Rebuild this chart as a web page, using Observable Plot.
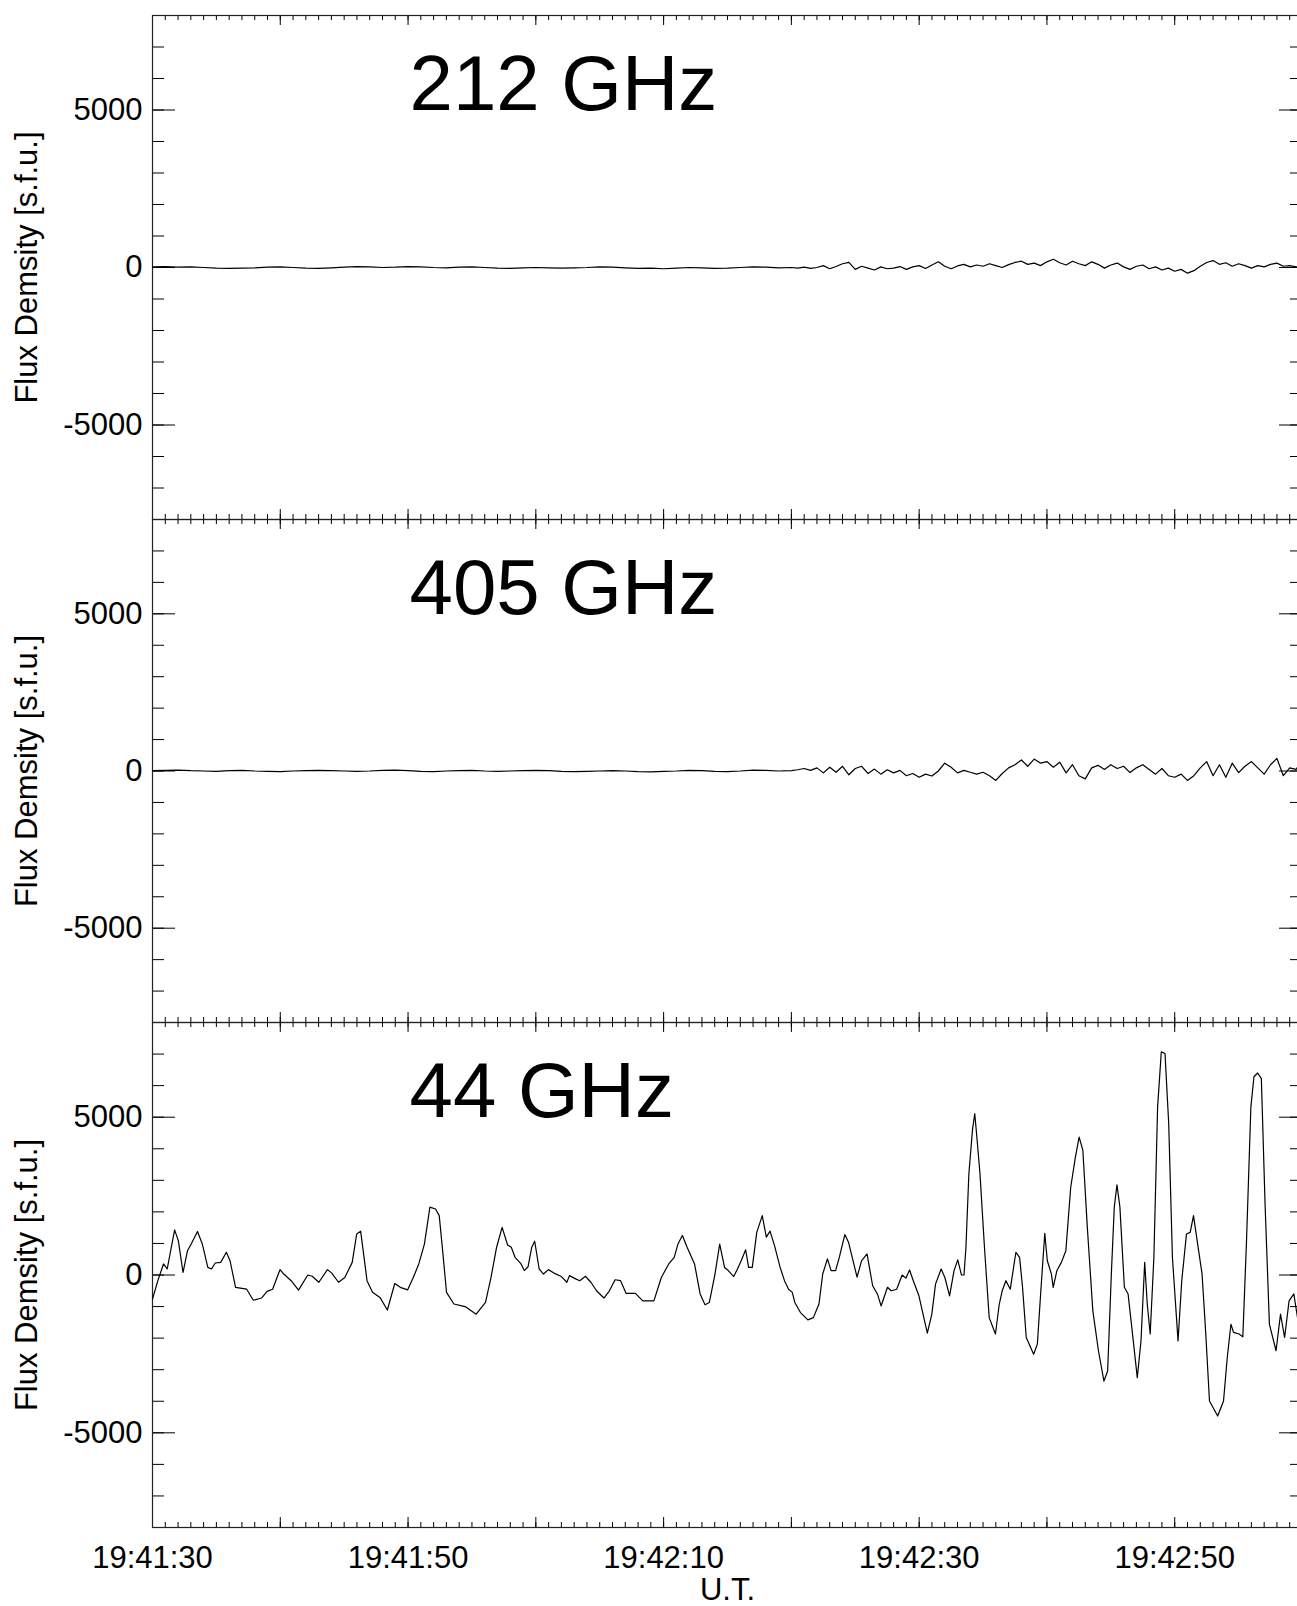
<!DOCTYPE html>
<html>
<head>
<meta charset="utf-8">
<script src="https://cdn.jsdelivr.net/npm/d3@7"></script>
<script src="https://cdn.jsdelivr.net/npm/@observablehq/plot@0.6"></script>
<style>
  body { margin: 0; background: #fff; }
  #wrap { position: relative; width: 1297px; height: 1606px; overflow: hidden; background: #fff; }
  .panel { position: absolute; left: 0; width: 1303px; }
  .panel svg { overflow: visible; display: block; max-width: none !important; }
</style>
</head>
<body>
<div id="wrap"></div>
<script>
// ---------- labels ----------
const panelTitles = ["212 GHz", "405 GHz", "44 GHz"];
const yLabel = "Flux Demsity [s.f.u.]";
const xLabel = "U.T.";
const xTickSeconds = [0, 20, 40, 60, 80];          // seconds after 19:41:30
const xTickLabels = ["19:41:30", "19:41:50", "19:42:10", "19:42:30", "19:42:50"];
const yTickValues = [-5000, 0, 5000];
const yTickLabels = ["-5000", "0", "5000"];

// ---------- 212 GHz & 405 GHz (seconds after 19:41:30, s.f.u.) ----------
const tNoise = [0,1,2,3,4,5,6,7,8,9,10,11,12,13,14,15,16,17,18,19,20,21,22,23,24,25,26,27,28,29,30,31,32,33,34,35,36,37,38,39,40,41,42,43,44,45,46,47,48,49,50,
  50.5,51,51.5,52,52.5,53,53.5,54,54.5,55,55.5,56,56.5,57,57.5,58,58.5,59,59.5,60,60.5,61,61.5,62,62.5,63,63.5,64,64.5,65,
  65.5,66,66.5,67,67.5,68,68.5,69,69.5,70,70.5,71,71.5,72,72.5,73,73.5,74,74.5,75,75.5,76,76.5,77,77.5,78,78.5,79,79.5,80,
  80.5,81,81.5,82,82.5,83,83.5,84,84.5,85,85.5,86,86.5,87,87.5,88,88.5,89,89.5,90];
const f212 = [20,30,10,20,0,-20,-30,-20,-10,10,20,0,-20,-30,-10,10,30,20,0,10,30,20,0,-10,10,20,0,-20,-30,-10,0,-10,-20,-10,0,20,10,-10,-30,-20,-40,-20,0,-10,-30,-20,0,20,10,-10,0,
  -20,10,-30,0,60,-40,30,120,160,-60, 40,-20,-80,20,-40,-20,30,-60,20,60,
  -30,80,180,40,-40,50,100,20,80,40, 120,60,0,90,160,200,100,140,60,180,
  260,150,80,200,120,60,180,100,-20,80, 140,20,-60,40,80,-40,20,-80,-20,-120,
  -60,-180,-100,40,160,220,100,150,40,120, 60,-20,60,20,100,140,40,60,20,40];
const f405 = [10,20,30,10,0,-10,10,20,0,-10,-20,0,10,20,10,0,-10,0,20,30,10,-10,-20,0,10,20,0,-10,0,10,20,10,-10,-20,-10,0,10,0,-20,-30,-10,0,20,10,-10,-20,0,30,20,0,10,
  40,80,20,100,-60,120,-40,150,-120,80, 150,-80,60,-100,40,-60,20,-150,-80,-200,
  -100,-160,0,250,120,-60,20,-40,-100,-40, -150,-300,-80,100,200,350,150,380,250,300,
  120,280,-60,200,-150,-250,100,180,50,200, 80,150,-50,100,200,50,-100,80,-150,-200,
  -100,-300,-150,100,300,-150,200,-200,250,-50, 150,300,100,-100,200,400,-150,100,50,400];

// ---------- 44 GHz ----------
const t44 = [0.0,0.42,0.86,1.15,1.73,2.02,2.39,2.74,3.03,3.52,3.90,4.33,4.62,4.91,5.34,5.78,6.07,6.50,7.37,7.89,
  8.53,8.97,9.40,9.98,10.27,10.85,11.43,12.15,12.50,13.02,13.69,14.03,14.56,15.05,15.63,15.98,16.29,16.79,17.22,17.80,
  18.38,18.96,19.39,19.97,20.41,20.84,21.28,21.71,22.15,22.44,22.73,23.01,23.59,24.46,24.75,25.33,26.06,26.49,26.93,27.36,
  27.79,28.08,28.37,28.81,29.10,29.39,29.68,29.91,30.26,30.60,30.98,31.42,32.00,32.43,32.63,33.15,33.44,33.88,34.31,34.75,
  35.33,35.76,36.20,36.63,37.06,37.79,38.37,39.24,39.82,40.40,40.83,41.12,41.47,41.84,42.42,42.86,43.24,43.58,44.02,44.39,
  44.77,45.06,45.49,45.78,46.07,46.42,46.65,46.94,47.29,47.72,48.04,48.33,48.68,49.12,49.46,49.78,50.07,50.27,50.71,51.29,
  51.72,52.16,52.45,52.82,53.11,53.46,53.75,54.18,54.47,54.76,55.14,55.49,55.92,56.36,56.73,57.02,57.52,57.81,58.24,58.67,
  58.96,59.25,59.54,59.98,60.64,60.99,61.28,61.72,62.01,62.38,62.73,63.02,63.31,63.51,63.66,63.89,64.18,64.35,64.47,64.76,
  65.11,65.48,65.97,66.27,66.50,66.79,67.13,67.57,67.86,68.09,68.38,68.96,69.25,69.54,69.83,70.03,70.35,70.49,70.78,71.13,
  71.48,71.86,72.23,72.52,72.81,73.16,73.59,74.03,74.46,74.75,75.04,75.27,75.48,75.71,76.06,76.35,76.64,77.07,77.36,77.65,
  77.85,78.08,78.37,78.66,78.95,79.24,79.53,79.82,80.26,80.55,80.92,81.21,81.47,81.85,82.14,82.43,82.72,83.36,83.82,84.11,
  84.40,84.60,85.04,85.33,85.62,85.96,86.20,86.49,86.78,87.07,87.41,87.93,88.28,88.60,88.95,89.32,89.61,89.82];
const f44 = [-760,-180,350,190,1430,1090,80,770,980,1380,980,240,190,380,400,720,450,-390,-450,-800,
  -730,-520,-450,170,30,-180,-480,0,-40,-230,170,60,-230,-80,400,1300,1390,-180,-550,-710,
  -1110,-270,-390,-470,-80,350,980,2150,2090,1880,670,-550,-920,-1000,-1080,-1240,-870,-80,880,1510,
  950,880,560,370,140,260,880,1070,190,30,170,60,-50,-230,-20,-130,-180,-40,-230,-500,
  -730,-500,-150,-180,-580,-580,-820,-820,-80,350,560,980,1250,880,350,-600,-940,-870,30,980,
  240,140,-50,190,450,800,240,240,1350,1880,1200,1390,930,240,-180,-450,-550,-870,-1190,-1420,
  -1350,-920,30,510,140,140,560,1280,1040,560,-70,450,670,-340,-600,-980,-390,-500,-450,0,
  -100,160,-180,-660,-1840,-1240,-290,190,-80,-660,140,480,0,0,880,3210,4630,5110,4580,3210,
  880,-1350,-1870,-920,-500,-180,-450,720,560,-390,-1980,-2510,-2190,-390,1320,450,30,-390,140,400,
  770,2780,3740,4370,3950,1510,-1130,-2400,-3360,-3040,30,2150,2860,2150,-390,-600,-1660,-3250,-2090,400,
  -920,-1870,560,5320,7070,7020,4790,560,-2090,-180,1300,1350,1880,830,30,-1870,-3990,-4470,-3990,-2620,
  -1560,-1820,-1870,-1960,1090,5320,6280,6400,6220,2250,-1560,-2400,-1240,-1980,-820,-600,-1350,450];

// ---------- layout ----------
const FONT = "'Liberation Sans', Arial, Helvetica, sans-serif";
const W = 1303, ML = 152, MR = 1;
const innerW = W - ML - MR;
const xDomain = [0, 90];
const yDomain = [-8000, 8000];
const xMinor = d3.range(0, 91, 1);
const xMajor = d3.range(0, 91, 10);
const yMinor = d3.range(-8000, 8001, 1000);
const yMajor = [-5000, 0, 5000];

const series = [
  {t: tNoise, f: f212},
  {t: tNoise, f: f405},
  {t: t44, f: f44}
];
const panels = [
  {top: 0,    mt: 15, inner: 504, mb: 2,  bottomAxis: false},
  {top: 517,  mt: 2,  inner: 503, mb: 2,  bottomAxis: false},
  {top: 1020, mt: 2,  inner: 505, mb: 79, bottomAxis: true}
];

const wrap = document.getElementById("wrap");
panels.forEach((p, i) => {
  const data = series[i].t.map((t, k) => ({t, v: series[i].f[k]}));
  const H = p.mt + p.inner + p.mb;
  const ih = p.inner;
  const marks = [
    Plot.ruleY(yMinor, {y: d => d, insetRight: innerW - 12, stroke: "black", strokeWidth: 1}),
    Plot.ruleY(yMajor, {y: d => d, insetRight: innerW - 23, stroke: "black", strokeWidth: 1}),
    Plot.ruleY(yMinor, {y: d => d, insetLeft: innerW - 12, stroke: "black", strokeWidth: 1}),
    Plot.ruleY(yMajor, {y: d => d, insetLeft: innerW - 23, stroke: "black", strokeWidth: 1}),
    Plot.ruleX(xMinor, {x: d => d, insetBottom: ih - 5, stroke: "black", strokeWidth: 1}),
    Plot.ruleX(xMajor, {x: d => d, insetBottom: ih - 10, stroke: "black", strokeWidth: 1}),
    Plot.ruleX(xMinor, {x: d => d, insetTop: ih - 5, stroke: "black", strokeWidth: 1}),
    Plot.ruleX(xMajor, {x: d => d, insetTop: ih - 10, stroke: "black", strokeWidth: 1}),
    Plot.frame({stroke: "#222", strokeWidth: 1.2}),
    Plot.line(data, {x: "t", y: "v", stroke: "black", strokeWidth: 1.2}),
    Plot.text(yTickValues, {y: d => d, frameAnchor: "left", dx: -10, textAnchor: "end",
      text: (d, k) => yTickLabels[k], fontSize: 31, fill: "black"}),
    Plot.text([yLabel], {frameAnchor: "left", dx: -125, rotate: -90, text: d => d,
      fontSize: 31, fill: "black", textAnchor: "middle"}),
    Plot.text([panelTitles[i]], {frameAnchor: "top-left", dx: 257, dy: 39, lineAnchor: "top",
      textAnchor: "start", text: d => d, fontSize: 78, fill: "black"})
  ];
  if (p.bottomAxis) {
    marks.push(Plot.text(xTickSeconds, {x: d => d, frameAnchor: "bottom", dy: 18, lineAnchor: "top",
      text: (d, k) => xTickLabels[k], fontSize: 31, fill: "black"}));
    marks.push(Plot.text([xLabel], {frameAnchor: "bottom", dy: 50, lineAnchor: "top",
      text: d => d, fontSize: 31, fill: "black"}));
  }
  const chart = Plot.plot({
    width: W, height: H,
    marginLeft: ML, marginRight: MR, marginTop: p.mt, marginBottom: p.mb,
    x: {domain: xDomain, axis: null},
    y: {domain: yDomain, axis: null},
    style: {fontFamily: FONT, background: "transparent", overflow: "visible", color: "black", maxWidth: "none"},
    marks
  });
  const div = document.createElement("div");
  div.className = "panel";
  div.style.top = p.top + "px";
  div.appendChild(chart);
  wrap.appendChild(div);
});
</script>
</body>
</html>
